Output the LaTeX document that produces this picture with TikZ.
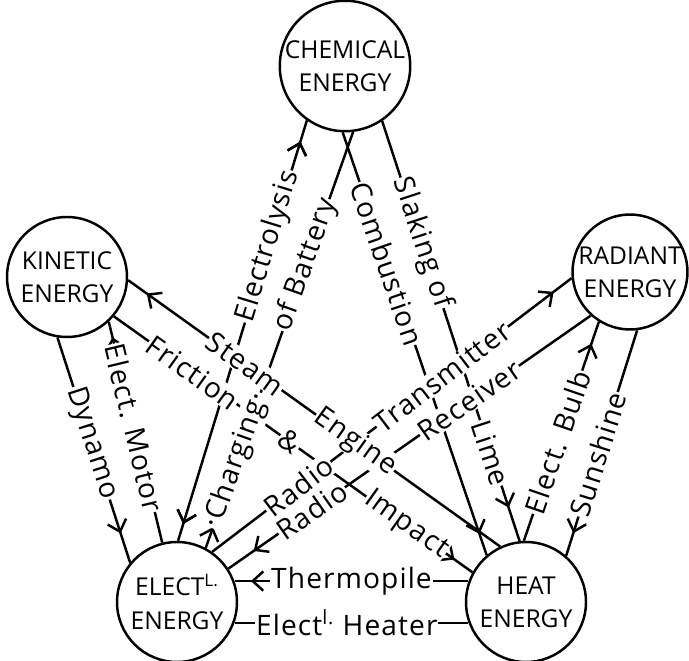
\documentclass[tikz,border=0pt]{standalone}
\usepackage{fontspec}
\setmainfont{Open Sans}
\newfontfamily\handfont{Open Sans}[LetterSpace=4]
\usetikzlibrary{arrows.meta,decorations.markings}
\tikzset{
  form/.style={circle,draw,line width=1.4pt,minimum size=2.4cm,inner sep=0pt,align=center,
    font=\fontsize{14}{19}\selectfont},
  link/.style={line width=1.4pt},
  lbl/.style={sloped,fill=white,inner sep=0.5pt,font=\handfont\fontsize{16}{18}\selectfont},
  barb at/.style={postaction={decorate},decoration={markings,
    mark=at position #1 with {\arrow{Straight Barb[length=6pt,width=11pt]}}}},
  barb back at/.style={postaction={decorate},decoration={markings,
    mark=at position #1 with {\arrowreversed{Straight Barb[length=6pt,width=11pt]}}}},
}

\begin{document}
\begin{tikzpicture}[x=0.02cm,y=-0.02cm]
\useasboundingbox (0,0) rectangle (689,661);
% the five forms of energy
\node[form] (chem) at (345,66) {CHEMICAL\\ENERGY};
\node[form] (kin) at (67,277) {KINETIC\\ENERGY};
\node[form,minimum size=2.28cm] (rad) at (630,272) {RADIANT\\ENERGY};
\node[form] (elec) at (177,602) {ELECT\textsuperscript{L.}\\ENERGY};
\node[form] (heat) at (526,602) {HEAT\\ENERGY};
% conversions; the order matters, later labels hide the lines they sit on
\draw[link,barb at=.95,barb back at=.04] (elec.89) -- (chem.-125)
  node[lbl,pos=.70] (lElectrolysis) {Electrolysis};
\draw[link,barb at=.95] (chem.-92) -- (heat.130)
  node[lbl,pos=.31] (lCombustion) {Combustion};
\draw[link,barb at=.92] (chem.-56) -- (heat.96)
  node[lbl,pos=.29] (lSlaking) {Slaking of}
  node[lbl,pos=.79] (lLime) {Lime};
\draw[link,barb at=.95] (kin.-40) -- (heat.151)
  node[lbl,pos=.22] (lFriction) {Friction}
  node[lbl,pos=.49] (lAnd) {\&}
  node[lbl,pos=.815] (lImpact) {Impact};
\draw[link,barb at=.05] (elec.62) -- (chem.-83)
  node[lbl,pos=.21] (lCharging) {·Charging·}
  node[lbl,pos=.68] (lBattery) {of Battery};
\draw[link,barb at=.95] (elec.55) -- (rad.186)
  node[lbl,pos=.24] (lRadioT) {Radio}
  node[lbl,pos=.64] (lTransmitter) {Transmitter};
\draw[link,barb at=.93] (rad.-132) -- (elec.33)
  node[lbl,pos=.335] (lReceiver) {Receiver}
  node[lbl,pos=.77] (lRadioR) {Radio};
\draw[link,barb at=.95] (heat.115) -- (kin.-3)
  node[lbl,pos=.39] (lEngine) {Engine}
  node[lbl,pos=.685] (lSteam) {Steam};
\draw[link,barb at=.87] (kin.-99) -- (elec.140)
  node[lbl,pos=.47] (lDynamo) {Dynamo};
\draw[link,barb at=.93] (elec.104) -- (kin.-47)
  node[lbl,pos=.52] (lMotor) {Elect. Motor};
\draw[link,barb at=.9] (heat.92) -- (rad.-122)
  node[lbl,pos=.45] (lBulb) {Elect. Bulb};
\draw[link,barb at=.9] (rad.-83) -- (heat.49)
  node[lbl,pos=.55] (lSunshine) {Sunshine};
\draw[link,barb at=.93] (heat.160) -- (elec.20)
  node[lbl,pos=.5] (lThermopile) {Thermopile};
\draw[link] (elec.-20) -- (heat.200)
  node[lbl,pos=.48] (lHeater) {Elect\textsuperscript{l.} Heater};
\end{tikzpicture}
\end{document}
